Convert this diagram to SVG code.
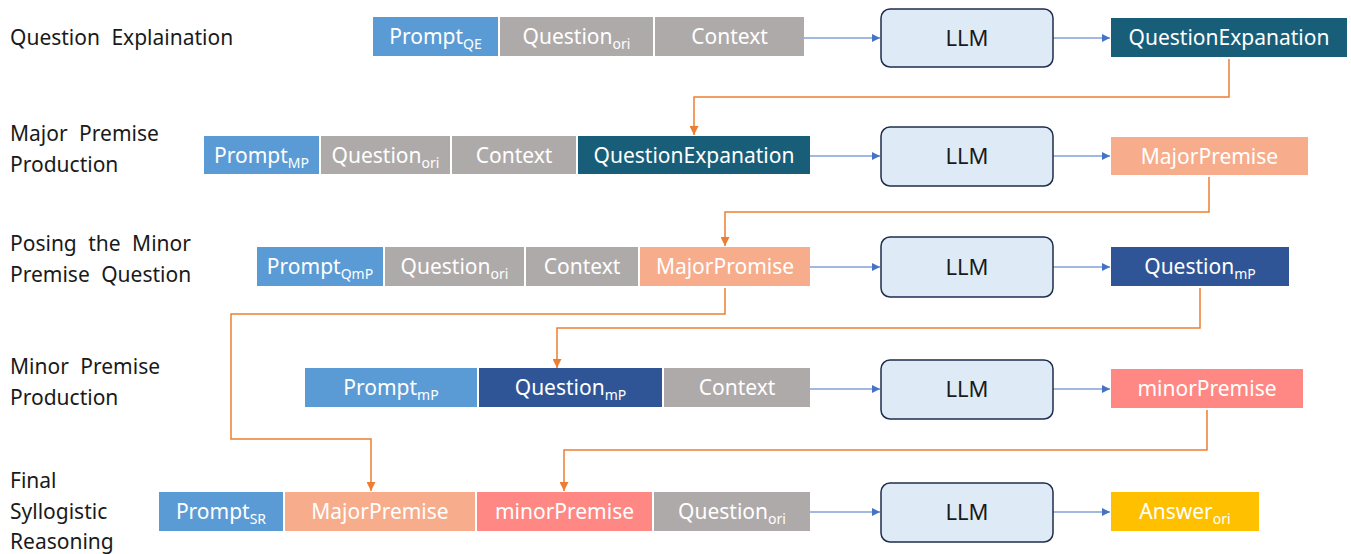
<svg xmlns="http://www.w3.org/2000/svg" width="1351" height="554" viewBox="0 0 1351 554">
<defs>
<style>
.lbl{font-family:"Noto Sans","Liberation Sans",sans-serif;font-size:21px;fill:#1a1a1a;word-spacing:6px}
.bt{font-family:"Noto Sans","Liberation Sans",sans-serif;font-size:21px;fill:#ffffff;text-anchor:middle}
.llmt{font-family:"Noto Sans","Liberation Sans",sans-serif;font-size:22px;fill:#1a1a1a;text-anchor:middle}
.sub{font-size:14px}
.llm{fill:#DEEBF7;stroke:#1F2D4D;stroke-width:1.5}
.pb{fill:#5B9BD5}.gr{fill:#AEAAAA}.tl{fill:#185E79}.sa{fill:#F7AD8C}.mp{fill:#FF8884}.db{fill:#2F5597}.yl{fill:#FFC000}
.ba{stroke:#4472C4;stroke-width:1.2;fill:none;marker-end:url(#ab)}
.oa{stroke:#ED7D31;stroke-width:1.5;fill:none}
.oam{marker-end:url(#ao)}
</style>
<marker id="ab" viewBox="0 0 10 10" refX="10" refY="5" markerWidth="8" markerHeight="8" markerUnits="userSpaceOnUse" orient="auto"><path d="M0,0L10,5L0,10z" fill="#4472C4"/></marker>
<marker id="ao" viewBox="0 0 10 10" refX="10" refY="5" markerWidth="9" markerHeight="9" markerUnits="userSpaceOnUse" orient="auto"><path d="M0,0L10,5L0,10z" fill="#ED7D31"/></marker>
</defs>
<rect width="1351" height="554" fill="#ffffff"/>

<g id="labels">
<text class="lbl" x="10" y="45">Question Explaination</text>
<text class="lbl" x="10" y="141">Major Premise</text>
<text class="lbl" x="10" y="172">Production</text>
<text class="lbl" x="10" y="251">Posing the Minor</text>
<text class="lbl" x="10" y="282">Premise Question</text>
<text class="lbl" x="10" y="374">Minor Premise</text>
<text class="lbl" x="10" y="405">Production</text>
<text class="lbl" x="10" y="488">Final</text>
<text class="lbl" x="10" y="519">Syllogistic</text>
<text class="lbl" x="10" y="549">Reasoning</text>
</g>

<g id="connectors">
<path class="ba" d="M804,38H880"/>
<path class="ba" d="M1053,38H1110"/>
<path class="ba" d="M810,156H880"/>
<path class="ba" d="M1053,156H1110"/>
<path class="ba" d="M810,267H880"/>
<path class="ba" d="M1053,267H1110"/>
<path class="ba" d="M810,389H880"/>
<path class="ba" d="M1053,389H1110"/>
<path class="ba" d="M810,512H880"/>
<path class="ba" d="M1053,512H1110"/>
<path class="oa oam" d="M1229,59V97H694V135"/>
<path class="oa oam" d="M1209,177V212H725V246"/>
<path class="oa oam" d="M725,288V314H231V439H371V491"/>
<path class="oa oam" d="M1200,288V328H557V368"/>
<path class="oa oam" d="M1207,410V450H564V491"/>
</g>

<g id="row1">
<g id="r1-prompt"><rect class="pb" x="373" y="17" width="125" height="39"/><text class="bt" x="435.5" y="44">Prompt<tspan class="sub" dy="5">QE</tspan></text></g>
<g id="r1-question"><rect class="gr" x="500" y="17" width="153" height="39"/><text class="bt" x="576.5" y="44">Question<tspan class="sub" dy="5">ori</tspan></text></g>
<g id="r1-context"><rect class="gr" x="655" y="17" width="149" height="39"/><text class="bt" x="729.5" y="44">Context</text></g>
<g id="r1-llm"><rect class="llm" x="881" y="9" width="172" height="58" rx="9"/><text class="llmt" x="967" y="46">LLM</text></g>
<g id="r1-out"><rect class="tl" x="1111" y="18" width="236" height="39"/><text class="bt" x="1229" y="45">QuestionExpanation</text></g>
</g>

<g id="row2">
<g id="r2-prompt"><rect class="pb" x="204" y="136" width="115" height="38"/><text class="bt" x="261.5" y="163">Prompt<tspan class="sub" dy="5">MP</tspan></text></g>
<g id="r2-question"><rect class="gr" x="321" y="136" width="129" height="38"/><text class="bt" x="385.5" y="163">Question<tspan class="sub" dy="5">ori</tspan></text></g>
<g id="r2-context"><rect class="gr" x="452" y="136" width="124" height="38"/><text class="bt" x="514" y="163">Context</text></g>
<g id="r2-qe"><rect class="tl" x="578" y="136" width="232" height="38"/><text class="bt" x="694" y="163">QuestionExpanation</text></g>
<g id="r2-llm"><rect class="llm" x="881" y="127" width="172" height="59" rx="9"/><text class="llmt" x="967" y="164">LLM</text></g>
<g id="r2-out"><rect class="sa" x="1111" y="137" width="197" height="38"/><text class="bt" x="1209.5" y="164">MajorPremise</text></g>
</g>

<g id="row3">
<g id="r3-prompt"><rect class="pb" x="257" y="247" width="126" height="39"/><text class="bt" x="320" y="274">Prompt<tspan class="sub" dy="5">QmP</tspan></text></g>
<g id="r3-question"><rect class="gr" x="385" y="247" width="139" height="39"/><text class="bt" x="454.5" y="274">Question<tspan class="sub" dy="5">ori</tspan></text></g>
<g id="r3-context"><rect class="gr" x="526" y="247" width="112" height="39"/><text class="bt" x="582" y="274">Context</text></g>
<g id="r3-major"><rect class="sa" x="640" y="247" width="170" height="39"/><text class="bt" x="725" y="274">MajorPromise</text></g>
<g id="r3-llm"><rect class="llm" x="881" y="237" width="172" height="60" rx="9"/><text class="llmt" x="967" y="275">LLM</text></g>
<g id="r3-out"><rect class="db" x="1111" y="247" width="178" height="39"/><text class="bt" x="1200" y="274">Question<tspan class="sub" dy="5">mP</tspan></text></g>
</g>

<g id="row4">
<g id="r4-prompt"><rect class="pb" x="305" y="368" width="172" height="39"/><text class="bt" x="391" y="395">Prompt<tspan class="sub" dy="5">mP</tspan></text></g>
<g id="r4-question"><rect class="db" x="479" y="368" width="183" height="39"/><text class="bt" x="570.5" y="395">Question<tspan class="sub" dy="5">mP</tspan></text></g>
<g id="r4-context"><rect class="gr" x="664" y="368" width="146" height="39"/><text class="bt" x="737" y="395">Context</text></g>
<g id="r4-llm"><rect class="llm" x="881" y="360" width="172" height="59" rx="9"/><text class="llmt" x="967" y="397">LLM</text></g>
<g id="r4-out"><rect class="mp" x="1111" y="369" width="192" height="39"/><text class="bt" x="1207" y="396">minorPremise</text></g>
</g>

<g id="row5">
<g id="r5-prompt"><rect class="pb" x="159" y="492" width="124" height="39"/><text class="bt" x="221" y="519">Prompt<tspan class="sub" dy="5">SR</tspan></text></g>
<g id="r5-major"><rect class="sa" x="285" y="492" width="190" height="39"/><text class="bt" x="380" y="519">MajorPremise</text></g>
<g id="r5-minor"><rect class="mp" x="477" y="492" width="175" height="39"/><text class="bt" x="564.5" y="519">minorPremise</text></g>
<g id="r5-question"><rect class="gr" x="654" y="492" width="156" height="39"/><text class="bt" x="732" y="519">Question<tspan class="sub" dy="5">ori</tspan></text></g>
<g id="r5-llm"><rect class="llm" x="881" y="483" width="172" height="59" rx="9"/><text class="llmt" x="967" y="520">LLM</text></g>
<g id="r5-out"><rect class="yl" x="1111" y="492" width="148" height="39"/><text class="bt" x="1185" y="519">Answer<tspan class="sub" dy="5">ori</tspan></text></g>
</g>
</svg>
